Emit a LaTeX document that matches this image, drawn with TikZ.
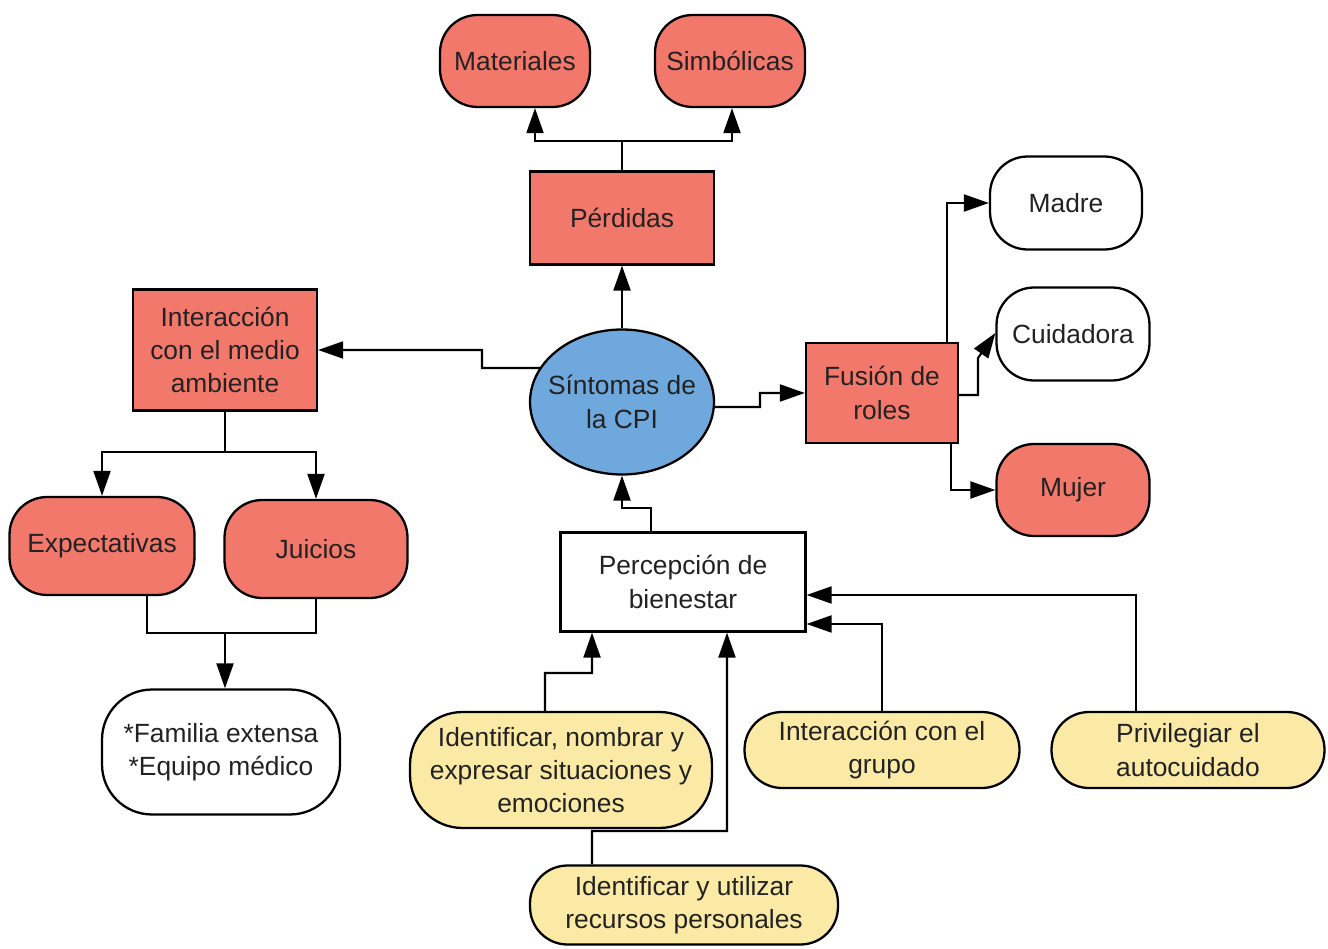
\documentclass[tikz,border=0pt]{standalone}
\usepackage{fontspec}
\setmainfont{Liberation Sans}
\usetikzlibrary{arrows.meta,calc,backgrounds,shapes.geometric}
\definecolor{redfill}{HTML}{F2786C}
\definecolor{bluefill}{HTML}{6FA8DC}
\definecolor{yelfill}{HTML}{FBEAA6}
\definecolor{txt}{HTML}{222222}
\tikzset{
  base/.style={draw=black, line width=1.3pt, align=center, text=txt,
    font=\fontsize{15}{19}\selectfont, inner sep=2pt},
  sqbox/.style={base, rectangle},
  pill/.style={base, rectangle, rounded corners=0.75cm},
  redf/.style={fill=redfill},
  whitef/.style={fill=white},
  yelf/.style={fill=yelfill},
  label/.style={align=center, text=txt, font=\fontsize{15}{19}\selectfont},
  conn/.style={draw=black, line width=1.2pt},
  arr/.style={conn, -{Triangle[length=0.5cm,width=0.34cm]}},
}
\begin{document}
\begin{tikzpicture}[x=0.02cm, y=-0.02cm]
\useasboundingbox (0,0) rectangle (1328,949);

% top: losses
\node[pill, redf, minimum width=3cm, minimum height=1.84cm] (mat) at (515,61) {Materiales};
\node[pill, redf, minimum width=3cm, minimum height=1.84cm] (simb) at (730,61) {Simbólicas};
\node[sqbox, redf, minimum width=3.68cm, minimum height=1.86cm] (perd) at (622,218) {Pérdidas};

% centre: the ellipse and its two-line label
\node[base, ellipse, fill=bluefill, inner sep=0pt, minimum width=3.68cm, minimum height=2.9cm] (sint) at (622,402) {};
\node[label] (sintl) at (sint.center) {Síntomas de\\la CPI};

% left branch
\node[sqbox, redf, minimum width=3.68cm, minimum height=2.42cm] (inter) at (225,350) {Interacción\\con el medio\\ambiente};
\node[pill, redf, minimum width=3.7cm, minimum height=1.96cm] (expe) at (102,546) {Expectativas};
\node[pill, redf, minimum width=3.66cm, minimum height=1.96cm] (juic) at (316,549) {Juicios};
\node[pill, whitef, rounded corners=1cm, minimum width=4.76cm, minimum height=2.5cm] (fam) at (221,752) {*Familia extensa\\*Equipo médico};

% right branch
\node[sqbox, redf, minimum width=3.04cm, minimum height=2cm] (fus) at (882,393) {Fusión de\\roles};
\node[pill, whitef, minimum width=3.04cm, minimum height=1.86cm] (madre) at (1066,203) {Madre};
\node[pill, whitef, minimum width=3.06cm, minimum height=1.86cm] (cuid) at (1073,334) {Cuidadora};
\node[pill, redf, minimum width=3.06cm, minimum height=1.84cm] (mujer) at (1073,490) {Mujer};

% bottom branch
\node[sqbox, whitef, minimum width=4.9cm, minimum height=1.98cm] (perc) at (683,582) {Percepción de\\bienestar};
\node[pill, yelf, rounded corners=1.05cm, minimum width=6.04cm, minimum height=2.32cm] (iden) at (561,770) {Identificar, nombrar y\\expresar situaciones y\\emociones};
\node[pill, yelf, minimum width=6.16cm, minimum height=1.58cm] (util) at (684,905) {Identificar y utilizar\\recursos personales};
\node[pill, yelf, minimum width=5.5cm, minimum height=1.52cm] (grupo) at (882,750) {Interacción con el\\grupo};
\node[pill, yelf, minimum width=5.46cm, minimum height=1.52cm] (priv) at (1188,750) {Privilegiar el\\autocuidado};

% connectors: losses
\coordinate (pj) at (622,141);
\draw[arr] (perd.north) -- (pj) -| ([xshift=0.4cm]mat.south);
\draw[arr] (pj) -| ([xshift=0.04cm]simb.south);
\draw[arr] (sint.north) -- (perd.south);

% connectors leaving the ellipse sideways start under it
\begin{scope}[on background layer]
  \draw[arr] ([yshift=0.68cm]sint.center) -- (482,368) |- (inter.east);
  \draw[arr] ([yshift=-0.1cm]sint.center) -- (760,407) |- (fus.west);
\end{scope}

% left branch connectors
\coordinate (ij) at (225,452);
\draw[conn] (inter.south) -- (ij);
\draw[arr] (ij) -| (expe.north);
\draw[arr] (ij) -| (juic.north);
\coordinate (ej) at (225,633);
\draw[conn] ([xshift=0.9cm]expe.south) |- (ej) -| (juic.south);
\draw[arr] (ej) -- (ej |- fam.north);

% right branch connectors
\draw[arr] ([xshift=1.3cm]fus.north) |- (madre.west);
\draw[arr] ([yshift=-0.04cm]fus.east) -| (978,358) -- ([yshift=0.02cm]cuid.west);
\draw[arr] ([xshift=1.38cm]fus.south) |- (mujer.west);

% bottom branch connectors
\draw[arr] ([xshift=-0.64cm]perc.north) |- (622,508) -- (sint.south);
\draw[arr] ([xshift=-0.32cm]iden.north) -- (545,673) -| ([xshift=-1.82cm]perc.south);
\draw[arr] ([xshift=-1.84cm]util.north) -- (592,831) -| ([xshift=0.88cm]perc.south);
\draw[arr] (grupo.north) |- ([yshift=-0.84cm]perc.east);
\draw[arr] ([xshift=-1.04cm]priv.north) |- ([yshift=-0.26cm]perc.east);
\end{tikzpicture}
\end{document}
